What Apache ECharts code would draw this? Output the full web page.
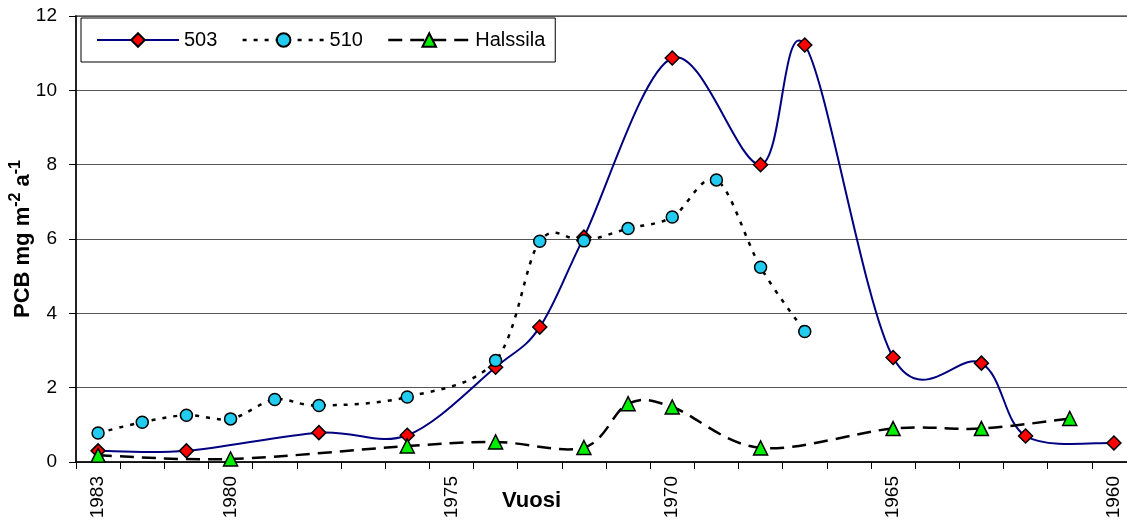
<!DOCTYPE html>
<html>
<head>
<meta charset="utf-8">
<script src="https://cdn.jsdelivr.net/npm/echarts@6/dist/echarts.min.js"></script>
<style>
html,body{margin:0;padding:0;background:#fff;}
#c{width:1127px;height:524px;}
</style>
</head>
<body>
<div id="c"></div>
<script>
var years = ['1983','1982','1981','1980','1979','1978','1977','1976','1975','1974','1973','1972',
             '1971','1970','1969','1968','1967','1966','1965','1964','1963','1962','1961','1960'];
var labeledYears = ['1983','1980','1975','1970','1965','1960'];
var s503 = [0.3, null, 0.3, null, null, 0.79, null, 0.72, null, 2.55, 3.63, 6.05,
            null, 10.87, null, 8.0, 11.22, null, 2.81, null, 2.66, 0.70, null, 0.51];
var s510 = [0.78, 1.07, 1.26, 1.16, 1.68, 1.52, null, 1.75, null, 2.73, 5.94, 5.95,
            6.28, 6.59, 7.59, 5.24, 3.51, null, null, null, null, null, null, null];
var sHal = [0.18, null, null, 0.08, null, null, null, 0.43, null, 0.54, null, 0.39,
            1.57, 1.48, null, 0.38, null, null, 0.90, null, 0.90, null, 1.17, null];
var seriesNames = ['503', '510', 'Halssila'];
var yAxisTitle = '{b|PCB mg m}{s|-2}{b| a}{s|-1}';
var xAxisTitle = 'Vuosi';

var font = 'Arial, "Liberation Sans", sans-serif';

// Smoothed (Excel-like Catmull-Rom) line drawn through the axes' own coordinate conversion
function curveSeries(name, values, stroke, width, dash, z) {
  return {
    type: 'custom', name: name + ' line', z: z, silent: true,
    data: [[0, 0]],
    renderItem: function (params, api) {
      var pts = [];
      values.forEach(function (v, i) { if (v != null) pts.push(api.coord([i, v])); });
      var d = 'M' + pts[0][0] + ',' + pts[0][1];
      for (var k = 0; k < pts.length - 1; k++) {
        var p0 = pts[k - 1] || pts[k], p1 = pts[k], p2 = pts[k + 1], p3 = pts[k + 2] || pts[k + 1];
        var c1x = p1[0] + (p2[0] - p0[0]) / 6, c1y = p1[1] + (p2[1] - p0[1]) / 6;
        var c2x = p2[0] - (p3[0] - p1[0]) / 6, c2y = p2[1] - (p3[1] - p1[1]) / 6;
        d += ' C' + c1x + ',' + c1y + ' ' + c2x + ',' + c2y + ' ' + p2[0] + ',' + p2[1];
      }
      return {
        type: 'path',
        shape: {pathData: d},
        style: {fill: 'none', stroke: stroke, lineWidth: width, lineDash: dash}
      };
    }
  };
}

function markerSeries(name, values, symbol, size, color, z) {
  return {
    name: name, type: 'line', data: values, z: z,
    symbol: symbol, symbolSize: size, showSymbol: true, showAllSymbol: true,
    lineStyle: {opacity: 0},
    itemStyle: {color: color, borderColor: '#000', borderWidth: 1.5}
  };
}

var chart = echarts.init(document.getElementById('c'), null, {renderer: 'canvas'});
chart.setOption({
  animation: false,
  backgroundColor: '#fff',
  textStyle: {fontFamily: font, color: '#000'},
  grid: {left: 76, top: 16, width: 1060, height: 446, show: true, borderColor: '#888', borderWidth: 2,
         containLabel: false, outerBoundsMode: 'none'},
  legend: {
    left: 81, top: 18, width: 477, height: 44,
    padding: [12, 10, 12, 15],
    itemGap: 24,
    itemWidth: 82, itemHeight: 17,
    backgroundColor: '#fff',
    borderColor: '#000', borderWidth: 1,
    textStyle: {fontSize: 20, color: '#000', fontFamily: font},
    data: [
      {name: seriesNames[0], lineStyle: {opacity: 1, color: '#000080', width: 2, type: 'solid'}},
      {name: seriesNames[1], lineStyle: {opacity: 1, color: '#000', width: 2.5, type: [4, 7]}},
      {name: seriesNames[2], lineStyle: {opacity: 1, color: '#000', width: 2.5, type: [14, 8]}}
    ]
  },
  xAxis: {
    type: 'category',
    data: years,
    boundaryGap: true,
    axisLine: {show: true, lineStyle: {color: '#000', width: 1.5}},
    axisTick: {show: true, interval: 0, length: 7, lineStyle: {color: '#000', width: 1}},
    axisLabel: {
      rotate: 90, margin: 14, fontSize: 19, color: '#000', fontFamily: font,
      interval: function (i, v) { return labeledYears.indexOf(v) >= 0; }
    },
    splitLine: {show: false}
  },
  yAxis: {
    type: 'value', min: 0, max: 12, interval: 2,
    name: yAxisTitle,
    nameLocation: 'middle', nameRotate: 90, nameGap: 42, nameMoveOverlap: false,
    nameTextStyle: {
      rich: {
        b: {fontSize: 22, fontWeight: 'bold', fontFamily: font, color: '#000', lineHeight: 26, verticalAlign: 'bottom'},
        s: {fontSize: 16, fontWeight: 'bold', fontFamily: font, color: '#000', lineHeight: 26, verticalAlign: 'top'}
      }
    },
    axisLine: {show: true, lineStyle: {color: '#000', width: 1.5}},
    axisTick: {show: true, length: 7, lineStyle: {color: '#000'}},
    axisLabel: {fontSize: 19, color: '#000', margin: 19, fontFamily: font},
    splitLine: {show: true, lineStyle: {color: '#555', width: 1}}
  },
  graphic: [{
    type: 'text', left: 502, top: 490,
    style: {text: xAxisTitle, font: 'bold 22px Arial, "Liberation Sans", sans-serif', fill: '#000'}
  }],
  series: [
    curveSeries(seriesNames[0], s503, '#000080', 2, null, 2),
    markerSeries(seriesNames[0], s503, 'diamond', 14, '#ff0000', 3),
    curveSeries(seriesNames[1], s510, '#000', 2.5, [4, 7], 4),
    markerSeries(seriesNames[1], s510, 'circle', 12, '#22ccf0', 5),
    curveSeries(seriesNames[2], sHal, '#000', 2.5, [14, 8], 6),
    markerSeries(seriesNames[2], sHal, 'triangle', 14, '#00ee00', 7)
  ]
});
</script>
</body>
</html>
